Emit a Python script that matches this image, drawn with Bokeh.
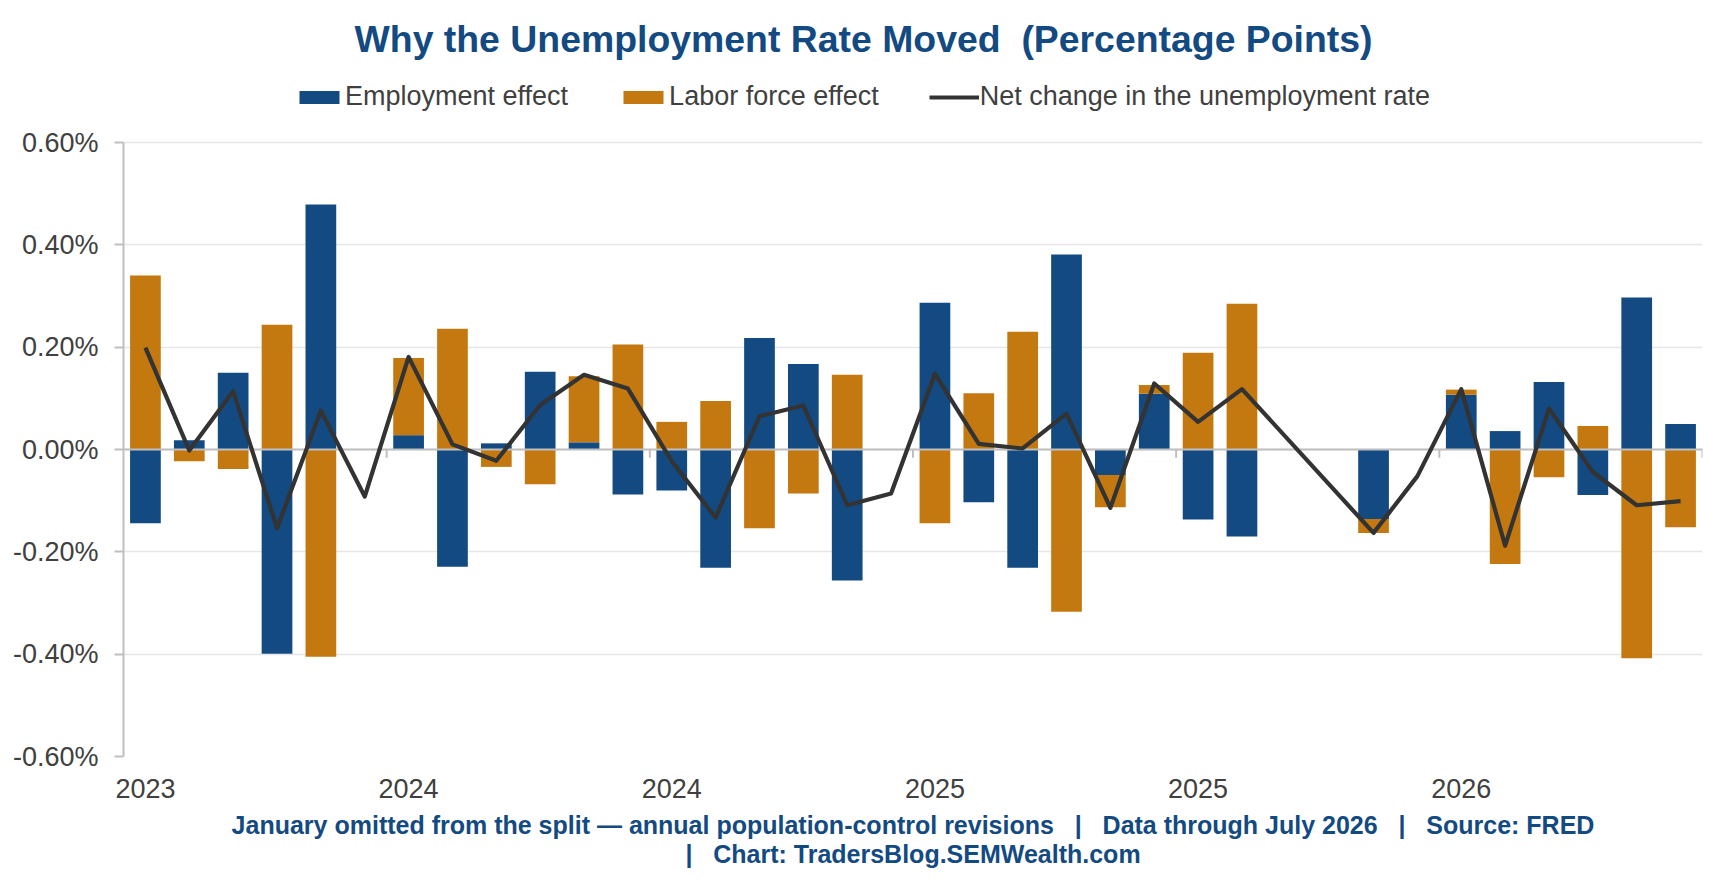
from bokeh.embed import file_html
from bokeh.models import (FixedTicker, Legend, LegendItem, PrintfTickFormatter,
                          Range1d, Title)
from bokeh.plotting import figure
from bokeh.resources import INLINE

# months shown (January has no split, Oct/Nov 2025 missing)
months = ["Aug 2023", "Sep 2023", "Oct 2023", "Nov 2023", "Dec 2023", "Jan 2024",
          "Feb 2024", "Mar 2024", "Apr 2024", "May 2024", "Jun 2024", "Jul 2024",
          "Aug 2024", "Sep 2024", "Oct 2024", "Nov 2024", "Dec 2024", "Jan 2025",
          "Feb 2025", "Mar 2025", "Apr 2025", "May 2025", "Jun 2025", "Jul 2025",
          "Aug 2025", "Sep 2025", "Oct 2025", "Nov 2025", "Dec 2025", "Jan 2026",
          "Feb 2026", "Mar 2026", "Apr 2026", "May 2026", "Jun 2026", "Jul 2026"]

employment_effect = [-0.144, 0.018, 0.150, -0.399, 0.479, None,
                     0.028, -0.229, 0.012, 0.152, 0.014, -0.088,
                     -0.080, -0.231, 0.218, 0.167, -0.256, None,
                     0.287, -0.103, -0.231, 0.381, -0.050, 0.109,
                     -0.137, -0.170, None, None, -0.136, None,
                     0.107, 0.036, 0.132, -0.089, 0.297, 0.050]

labor_force_effect = [0.340, -0.023, -0.038, 0.244, -0.405, None,
                      0.151, 0.236, -0.034, -0.068, 0.129, 0.205,
                      0.054, 0.095, -0.154, -0.086, 0.146, None,
                      -0.144, 0.110, 0.230, -0.317, -0.063, 0.017,
                      0.189, 0.285, None, None, -0.027, None,
                      0.010, -0.224, -0.054, 0.046, -0.408, -0.152]

net_change = [0.199, -0.002, 0.114, -0.154, 0.076, -0.092,
              0.181, 0.010, -0.022, 0.087, 0.146, 0.119,
              -0.023, -0.133, 0.065, 0.086, -0.109, -0.086,
              0.148, 0.011, 0.002, 0.070, -0.114, 0.129,
              0.054, 0.118, None, None, -0.163, -0.052,
              0.118, -0.188, 0.080, -0.044, -0.109, -0.101]

y_ticks = [-0.6, -0.4, -0.2, 0.0, 0.2, 0.4, 0.6]

BLUE = "#134A82"
ORANGE = "#C47910"
TEXT = "#404040"
AXIS = "#BFBFBF"
FONT = "Liberation Sans"
NB = "\u00a0"

n = len(months)
xs = list(range(n))
nan = float("nan")

# stacking: each sign stacks on its own side of zero
emp_top = [nan if e is None else e for e in employment_effect]
lab_bottom, lab_top = [], []
for e, l in zip(employment_effect, labor_force_effect):
    if l is None:
        lab_bottom.append(nan)
        lab_top.append(nan)
        continue
    base = e if (e is not None and (e >= 0) == (l >= 0)) else 0.0
    lab_bottom.append(base)
    lab_top.append(base + l)

line_x = [i for i, v in zip(xs, net_change) if v is not None]
line_y = [v for v in net_change if v is not None]

# frame runs up past 0.60% so the legend can live inside it
frame_top, grid_top, grid_bottom = 78, 142, 756
y_end = 0.6 + (grid_top - frame_top) * 1.2 / (grid_bottom - grid_top)

p = figure(width=1709, height=876, output_backend="svg", toolbar_location=None,
           x_range=Range1d(-0.5, n - 0.5), y_range=Range1d(-0.6, y_end),
           min_border_left=123, min_border_right=7, min_border_top=frame_top,
           min_border_bottom=876 - grid_bottom)
p.outline_line_color = None
p.background_fill_color = "white"

p.title.text = "Why the Unemployment Rate Moved" + NB + " (Percentage Points)"
p.title.align = "left"
p.title.vertical_align = "top"
p.title.offset = 231
p.title.standoff = 34
p.title.text_font = FONT
p.title.text_font_size = "37.4px"
p.title.text_font_style = "bold"
p.title.text_color = BLUE

r_emp = p.vbar(x=xs, width=0.7, bottom=0, top=emp_top, fill_color=BLUE, line_color=None)
r_lab = p.vbar(x=xs, width=0.7, bottom=lab_bottom, top=lab_top, fill_color=ORANGE, line_color=None)
p.hspan(y=[0], line_color=AXIS, line_width=2)
bounds = [i - 0.5 for i in range(6, n + 1, 6)]
p.segment(x0=bounds, x1=bounds, y0=[0] * len(bounds), y1=[-0.0162] * len(bounds),
          line_color=AXIS, line_width=2)
r_net = p.line(line_x, line_y, line_color="#333333", line_width=4.2, line_join="round")

# axes
p.xgrid.grid_line_color = None
p.ygrid.ticker = FixedTicker(ticks=y_ticks)
p.ygrid.grid_line_color = "#E6E6E6"
p.ygrid.grid_line_width = 1.5

p.yaxis.ticker = FixedTicker(ticks=y_ticks)
p.yaxis.bounds = (-0.6, 0.6)
p.yaxis.formatter = PrintfTickFormatter(format="%.2f%%")
p.yaxis.axis_line_color = AXIS
p.yaxis.axis_line_width = 2
p.yaxis.major_tick_line_color = AXIS
p.yaxis.major_tick_line_width = 2
p.yaxis.major_tick_out = 9
p.yaxis.major_tick_in = 0
p.yaxis.minor_tick_line_color = None
p.yaxis.major_label_standoff = 16
p.yaxis.major_label_text_font = FONT
p.yaxis.major_label_text_font_size = "27px"
p.yaxis.major_label_text_color = TEXT

p.xaxis.ticker = FixedTicker(ticks=list(range(0, n, 6)))
p.xaxis.major_label_overrides = {i: months[i].split()[1] for i in range(0, n, 6)}
p.xaxis.axis_line_color = None
p.xaxis.major_tick_line_color = None
p.xaxis.minor_tick_line_color = None
p.xaxis.major_tick_out = 0
p.xaxis.major_tick_in = 0
p.xaxis.major_label_standoff = 22
p.xaxis.major_label_text_font = FONT
p.xaxis.major_label_text_font_size = "27px"
p.xaxis.major_label_text_color = TEXT

# legend offsets are screen px from the frame's bottom-left
legend = Legend(items=[LegendItem(label="Employment effect", renderers=[r_emp]),
                       LegendItem(label="Labor force effect", renderers=[r_lab]),
                       LegendItem(label="Net change in the unemployment rate", renderers=[r_net])],
                orientation="horizontal", location=(171, 644), padding=0, margin=0,
                spacing=50, glyph_width=50, glyph_height=16, label_standoff=1,
                label_text_font=FONT, label_text_font_size="27px",
                label_text_color=TEXT, border_line_color=None,
                background_fill_alpha=0)
p.add_layout(legend, "center")

sep = " " + NB + NB + "|" + NB + NB + " "
notes = ["January omitted from the split \u2014 annual population-control revisions"
         + sep + "Data through July 2026" + sep + "Source: FRED",
         "|" + NB + NB + " Chart: TradersBlog.SEMWealth.com"]
for t, s in zip(notes, [16, -18]):
    p.add_layout(Title(text=t, align="center", text_font=FONT, text_font_size="25px",
                       text_font_style="bold", text_color=BLUE, standoff=s), "below")

open("out.html", "w").write(file_html(p, INLINE))
